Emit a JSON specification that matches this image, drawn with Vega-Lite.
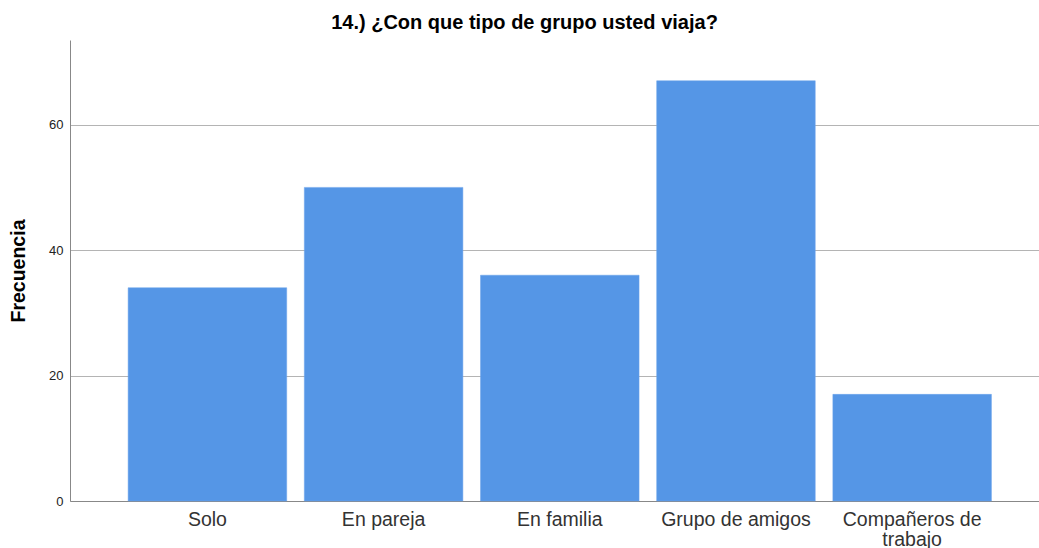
{
  "$schema": "https://vega.github.io/schema/vega-lite/v6.json",
  "autosize": {"type": "none"},
  "width": 969,
  "height": 461,
  "padding": {"left": 70, "top": 40, "right": 0, "bottom": 47},
  "background": "white",
  "title": {
    "text": "14.) ¿Con que tipo de grupo usted viaja?",
    "font": "Liberation Sans",
    "fontSize": 20,
    "fontWeight": "bold",
    "color": "#000000",
    "anchor": "middle",
    "dx": -30,
    "offset": 7
  },
  "data": {
    "values": [
      {"grupo": "Solo", "frecuencia": 34},
      {"grupo": "En pareja", "frecuencia": 50},
      {"grupo": "En familia", "frecuencia": 36},
      {"grupo": "Grupo de amigos", "frecuencia": 67},
      {"grupo": "Compañeros de trabajo", "frecuencia": 17}
    ]
  },
  "mark": {"type": "bar", "color": "#5596E6", "stroke": "#6aa3ea", "strokeWidth": 0.5},
  "encoding": {
    "x": {
      "field": "grupo",
      "type": "nominal",
      "sort": null,
      "scale": {"paddingInner": 0.1, "paddingOuter": 0.3, "align": 0.55},
      "axis": {
        "title": null,
        "labelAngle": 0,
        "labelFont": "Liberation Sans",
        "labelFontSize": 19.5,
        "labelColor": "#333333",
        "labelPadding": 9,
        "labelLineHeight": 20,
        "ticks": false,
        "domainColor": "#888888",
        "labelExpr": "datum.label == 'Compañeros de trabajo' ? ['Compañeros de', 'trabajo'] : datum.label"
      }
    },
    "y": {
      "field": "frecuencia",
      "type": "quantitative",
      "scale": {"domain": [0, 73.5], "nice": false},
      "axis": {
        "title": "Frecuencia",
        "titleFont": "Liberation Sans",
        "titleFontSize": 19.5,
        "titleFontWeight": "bold",
        "titleColor": "#000000",
        "titlePadding": 20,
        "values": [0, 20, 40, 60],
        "labelFont": "Liberation Sans",
        "labelFontSize": 13,
        "labelColor": "#222222",
        "labelPadding": 7,
        "ticks": false,
        "domainColor": "#888888",
        "grid": true,
        "gridColor": "#b4b4b4",
        "gridWidth": 1
      }
    }
  },
  "config": {
    "view": {"stroke": null}
  }
}
